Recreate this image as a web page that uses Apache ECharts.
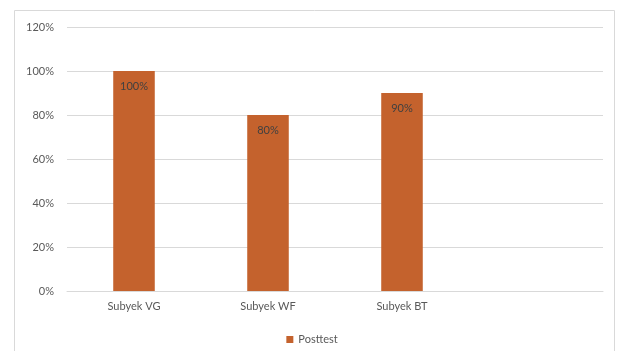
<!DOCTYPE html>
<html>
<head>
<meta charset="utf-8">
<script src="https://cdn.jsdelivr.net/npm/echarts@6/dist/echarts.min.js"></script>
<style>
html, body { margin: 0; padding: 0; background: #fff; }
#chart { width: 624px; height: 351px; }
</style>
</head>
<body>
<div id="chart"></div>
<script>
// data
const categories = ['Subyek VG', 'Subyek WF', 'Subyek BT', ''];
const posttest = [100, 80, 90, null];
const yTicks = [0, 20, 40, 60, 80, 100, 120];

let chart = echarts.init(document.getElementById('chart'));
let option = {
    animation: false,
    textStyle: {fontFamily: 'Lato, "Open Sans", sans-serif'},
    graphic: [{
        type: 'rect',
        shape: {x: 14.5, y: 10.5, width: 600, height: 345},
        style: {fill: 'none', stroke: '#d9d9d9', lineWidth: 1}
    }],
    grid: {left: 67, right: 21, top: 27, bottom: 60},
    legend: {
        bottom: 1,
        left: 'center',
        icon: 'rect',
        itemWidth: 7,
        itemHeight: 7,
        itemGap: 5,
        textStyle: {color: '#595959', fontSize: 11}
    },
    xAxis: {
        type: 'category',
        data: categories,
        axisTick: {show: false},
        axisLine: {lineStyle: {color: '#d9d9d9'}},
        axisLabel: {color: '#595959', fontSize: 11, margin: 10}
    },
    yAxis: {
        type: 'value',
        min: yTicks[0],
        max: yTicks[yTicks.length - 1],
        interval: 20,
        axisLine: {show: false},
        axisTick: {show: false},
        splitLine: {lineStyle: {color: '#d9d9d9'}},
        axisLabel: {color: '#595959', fontSize: 11, margin: 13, formatter: v => v + '%'}
    },
    series: [{
        name: 'Posttest',
        type: 'bar',
        data: posttest,
        barWidth: '31%',
        itemStyle: {color: '#c4622d'},
        label: {
            show: true,
            position: 'insideTop',
            distance: 10,
            color: '#404040',
            fontSize: 11,
            formatter: p => p.value + '%'
        }
    }]
};
chart.setOption(option);
</script>
</body>
</html>
